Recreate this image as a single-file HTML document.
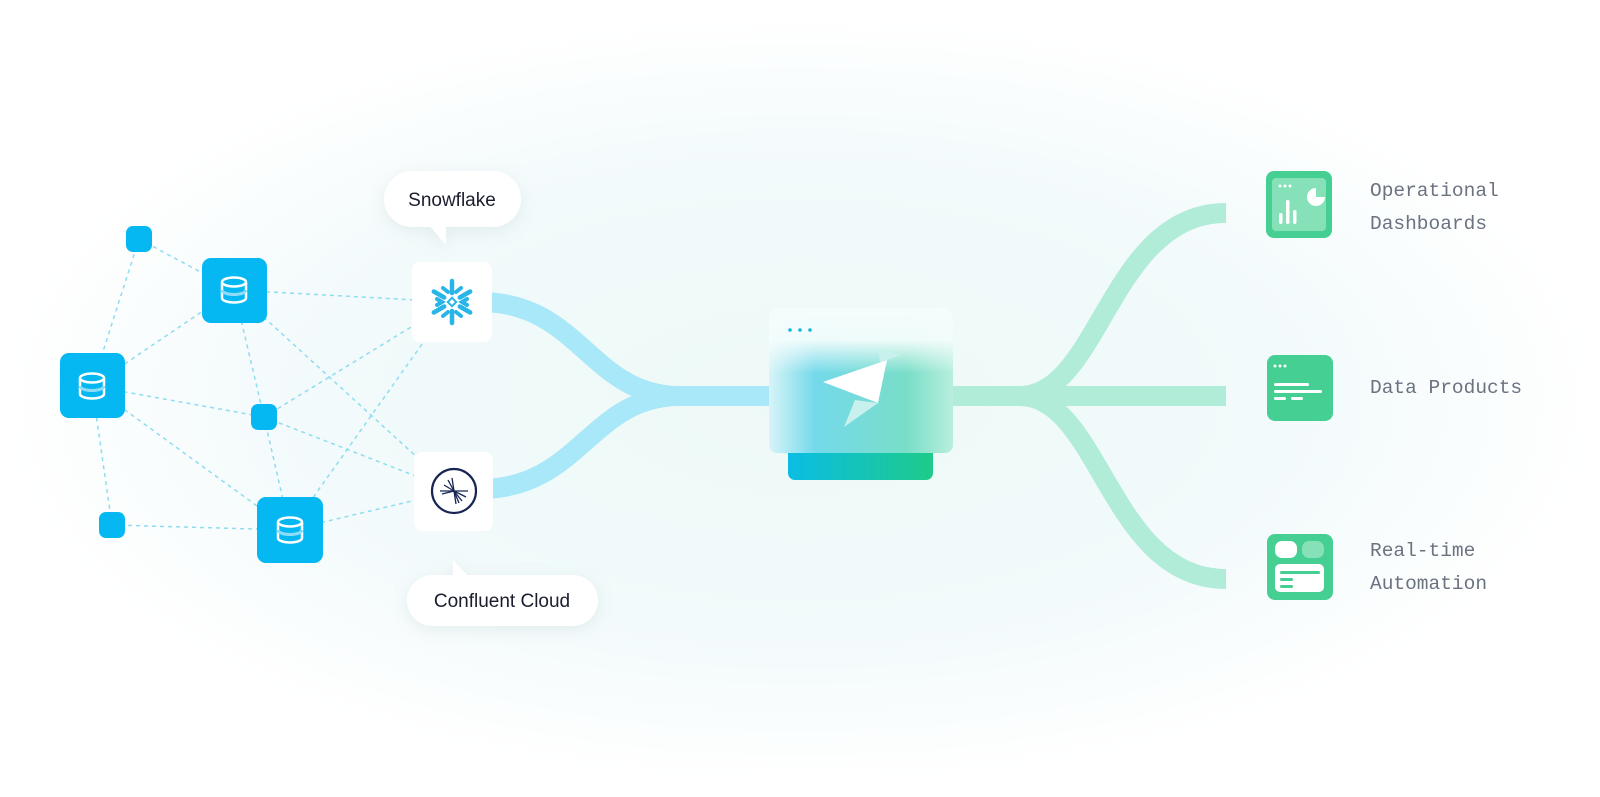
<!DOCTYPE html>
<html><head><meta charset="utf-8"><style>
html,body{margin:0;padding:0;width:1600px;height:797px;overflow:hidden;background:#fff}
svg{display:block}
</style></head><body>
<svg width="1600" height="797" viewBox="0 0 1600 797" xmlns="http://www.w3.org/2000/svg">
<defs>
<radialGradient id="bg" cx="800" cy="400" r="800" gradientUnits="userSpaceOnUse" gradientTransform="translate(800 400) scale(1 0.48) translate(-800 -400)">
<stop offset="0" stop-color="#edf9f7"/><stop offset="0.6" stop-color="#f2fafb"/><stop offset="1" stop-color="#ffffff"/>
</radialGradient>
<linearGradient id="bar" x1="0" x2="1"><stop offset="0" stop-color="#0bbde4"/><stop offset="1" stop-color="#1ecb8a"/></linearGradient>
<linearGradient id="cardBase" x1="0" x2="1"><stop offset="0" stop-color="#d8f4f8"/><stop offset="0.25" stop-color="#74d9ea"/><stop offset="0.75" stop-color="#79dec8"/><stop offset="1" stop-color="#b8eedd"/></linearGradient>
<linearGradient id="cardTop" x1="0" x2="0" y1="0" y2="1"><stop offset="0" stop-color="#f5fdfc"/><stop offset="0.22" stop-color="#f5fdfc" stop-opacity="0.95"/><stop offset="0.45" stop-color="#f5fdfc" stop-opacity="0"/><stop offset="1" stop-color="#f5fdfc" stop-opacity="0"/></linearGradient>
<filter id="sh" x="-30%" y="-30%" width="160%" height="160%"><feDropShadow dx="0" dy="4" stdDeviation="8" flood-color="#7a9a9a" flood-opacity="0.15"/></filter>
</defs>
<rect width="1600" height="797" fill="url(#bg)"/>

<g stroke="#8fdcf0" stroke-width="1.5" stroke-dasharray="4 4" fill="none">
<line x1="139" y1="239" x2="234" y2="290"/>
<line x1="139" y1="239" x2="92" y2="386"/>
<line x1="234" y1="290" x2="452" y2="302"/>
<line x1="234" y1="290" x2="92" y2="386"/>
<line x1="234" y1="290" x2="264" y2="417"/>
<line x1="234" y1="290" x2="454" y2="491"/>
<line x1="92" y1="386" x2="264" y2="417"/>
<line x1="92" y1="386" x2="290" y2="530"/>
<line x1="92" y1="386" x2="112" y2="525"/>
<line x1="112" y1="525" x2="290" y2="530"/>
<line x1="264" y1="417" x2="452" y2="302"/>
<line x1="264" y1="417" x2="454" y2="491"/>
<line x1="264" y1="417" x2="290" y2="530"/>
<line x1="290" y1="530" x2="452" y2="302"/>
<line x1="290" y1="530" x2="454" y2="491"/>
</g>

<g stroke="#a9e8f8" stroke-width="20" fill="none">
<path d="M480 302 C 580 302, 590 396, 680 396 L 775 396"/>
<path d="M480 489 C 580 489, 590 396, 680 396"/>
</g>
<g stroke="#b0ecd8" stroke-width="20" fill="none">
<path d="M945 396 L 1226 396"/>
<path d="M945 396 L 1020 396 C 1100 396, 1110 213, 1226 213"/>
<path d="M1020 396 C 1100 396, 1110 579, 1226 579"/>
</g>

<g fill="#05b8f2">
<rect x="126" y="226" width="26" height="26" rx="7"/>
<rect x="251" y="404" width="26" height="26" rx="7"/>
<rect x="99" y="512" width="26" height="26" rx="7"/>
<rect x="202" y="258" width="65" height="65" rx="9"/>
<rect x="60" y="353" width="65" height="65" rx="9"/>
<rect x="257" y="497" width="66" height="66" rx="9"/>
</g>
<g fill="none" stroke="#fff" stroke-width="2.5">
<g transform="translate(234 290)"><path d="M-12 -8 V8 A12 4.5 0 0 0 12 8 V-8"/><ellipse cx="0" cy="-8" rx="12" ry="4.5"/><path d="M-12 0 A12 4.5 0 0 0 12 0" stroke="#8fdcf7" stroke-width="3"/></g>
<g transform="translate(92 386)"><path d="M-12 -8 V8 A12 4.5 0 0 0 12 8 V-8"/><ellipse cx="0" cy="-8" rx="12" ry="4.5"/><path d="M-12 0 A12 4.5 0 0 0 12 0" stroke="#8fdcf7" stroke-width="3"/></g>
<g transform="translate(290 530)"><path d="M-12 -8 V8 A12 4.5 0 0 0 12 8 V-8"/><ellipse cx="0" cy="-8" rx="12" ry="4.5"/><path d="M-12 0 A12 4.5 0 0 0 12 0" stroke="#8fdcf7" stroke-width="3"/></g>
</g>

<rect x="412" y="262" width="80" height="80" rx="8" fill="#fff"/>
<rect x="414" y="452" width="79" height="79" rx="8" fill="#fff"/>
<g transform="translate(452 302)" stroke="#29b5e8" stroke-width="4.5" stroke-linecap="round" fill="none">
<g><line x1="0" y1="-9" x2="0" y2="-21"/><polyline points="-7,-18 0,-11 7,-18" stroke-width="0"/></g>
<g transform="rotate(60)"><line x1="0" y1="-9" x2="0" y2="-21"/></g>
<g transform="rotate(120)"><line x1="0" y1="-9" x2="0" y2="-21"/></g>
<g transform="rotate(180)"><line x1="0" y1="-9" x2="0" y2="-21"/></g>
<g transform="rotate(240)"><line x1="0" y1="-9" x2="0" y2="-21"/></g>
<g transform="rotate(300)"><line x1="0" y1="-9" x2="0" y2="-21"/></g>
<g stroke-width="4">
<polyline points="-9,-14 -4,-10"/><polyline points="9,-14 4,-10"/>
<polyline points="-9,14 -4,10"/><polyline points="9,14 4,10"/>
<polyline points="-15,-3 -10,0 -15,3"/><polyline points="15,-3 10,0 15,3"/>
</g>
<rect x="-3" y="-3" width="6" height="6" transform="rotate(45)" stroke-width="2"/>
</g>
<g transform="translate(454 491)" stroke="#172554" fill="none">
<circle r="22" stroke-width="2.2"/>
<g stroke-width="1.3">
<line x1="-14" y1="0" x2="14" y2="0"/><line x1="-2" y1="-13" x2="2" y2="13"/>
<line x1="0" y1="0" x2="-6" y2="-11"/><line x1="0" y1="0" x2="-10" y2="-6"/><line x1="0" y1="0" x2="8" y2="10"/><line x1="0" y1="0" x2="12" y2="6"/><line x1="0" y1="0" x2="5" y2="12"/><line x1="0" y1="0" x2="-12" y2="3"/>
</g>
</g>

<g filter="url(#sh)" fill="#fff">
<rect x="384" y="171" width="137" height="56" rx="28"/>
<path d="M428 224 L446 224 L446 245 Z"/>
<rect x="407" y="575" width="191" height="51" rx="25.5"/>
<path d="M453 560 L453 580 L472 580 Z"/>
</g>
<g font-family="'Liberation Sans',sans-serif" font-size="19" fill="#1a1d2e" text-anchor="middle">
<text x="452" y="206">Snowflake</text>
<text x="502" y="607">Confluent Cloud</text>
</g>

<rect x="788" y="440" width="145" height="40" rx="7" fill="url(#bar)"/>
<rect x="769" y="308" width="184" height="145" rx="8" fill="url(#cardBase)"/>
<rect x="769" y="308" width="184" height="145" rx="8" fill="url(#cardTop)"/>
<g fill="#14b8d8"><circle cx="790" cy="330" r="1.8"/><circle cx="800" cy="330" r="1.8"/><circle cx="810" cy="330" r="1.8"/></g>
<polygon points="878,349 902,355 880,362" fill="#c8f0ec"/>
<polygon points="855,400 844,427 878,403" fill="#c8f0ec"/>
<polygon points="823,382 887,360 878,403" fill="#fff"/>

<g fill="#45cf93">
<rect x="1266" y="171" width="66" height="67" rx="8"/>
<rect x="1267" y="355" width="66" height="66" rx="8"/>
<rect x="1267" y="534" width="66" height="66" rx="8"/>
</g>
<rect x="1272" y="178" width="54" height="53" rx="4" fill="#86e0b8"/>
<g fill="#fff">
<circle cx="1280" cy="186" r="1.5"/><circle cx="1285" cy="186" r="1.5"/><circle cx="1290" cy="186" r="1.5"/>
<path d="M1316 188 A9 9 0 1 0 1325 197 L1316 197 Z"/>
<rect x="1279" y="213" width="3.5" height="11" rx="1.7"/><rect x="1286" y="200" width="3.5" height="24" rx="1.7"/><rect x="1293" y="210" width="3.5" height="14" rx="1.7"/>
<circle cx="1275" cy="366" r="1.5"/><circle cx="1280" cy="366" r="1.5"/><circle cx="1285" cy="366" r="1.5"/>
<rect x="1274" y="383" width="35" height="3" rx="1.5"/><rect x="1274" y="390" width="48" height="3" rx="1.5"/>
<rect x="1274" y="397" width="12" height="3" rx="1.5"/><rect x="1291" y="397" width="12" height="3" rx="1.5"/>
<rect x="1275" y="541" width="22" height="17" rx="7"/>
<rect x="1275" y="564" width="49" height="28" rx="5"/>
</g>
<rect x="1302" y="541" width="22" height="17" rx="7" fill="#86e0b8"/>
<g fill="#45cf93"><rect x="1280" y="571" width="40" height="3" rx="1.5"/><rect x="1280" y="578" width="13" height="3" rx="1.5"/><rect x="1280" y="585" width="13" height="3" rx="1.5"/></g>

<g font-family="'Liberation Mono',monospace" font-size="19.5" fill="#6b7280">
<text x="1370" y="196">Operational</text>
<text x="1370" y="229">Dashboards</text>
<text x="1370" y="393">Data Products</text>
<text x="1370" y="556">Real-time</text>
<text x="1370" y="589">Automation</text>
</g>
</svg>
</body></html>
